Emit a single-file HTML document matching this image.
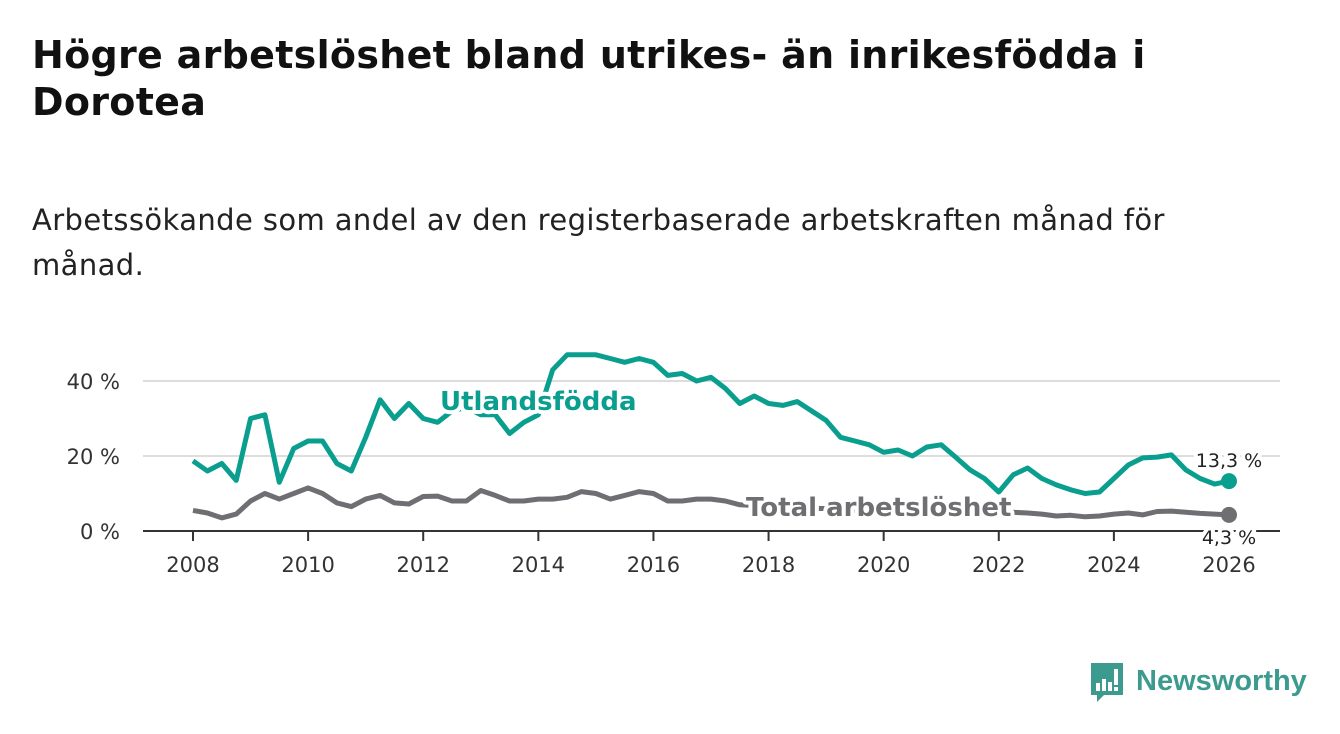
<!DOCTYPE html>
<html><head><meta charset="utf-8">
<style>
html,body{margin:0;padding:0;background:#fff;width:1340px;height:734px;overflow:hidden;font-family:"DejaVu Sans","Liberation Sans",sans-serif;}
h1{position:absolute;left:32px;top:32px;margin:0;font-size:38px;line-height:47px;font-weight:bold;color:#111;white-space:nowrap;letter-spacing:0.3px;}
p.sub{position:absolute;left:32px;top:198px;margin:0;font-size:29px;line-height:45px;color:#222;white-space:nowrap;letter-spacing:0.4px;}
svg{position:absolute;left:0;top:0;}
</style></head><body>
<h1>Högre arbetslöshet bland utrikes- än inrikesfödda i<br>Dorotea</h1>
<p class="sub">Arbetssökande som andel av den registerbaserade arbetskraften månad för<br>månad.</p>
<svg id="chart" width="1340" height="734"></svg>
<script>
const startYear = 2008;
const stepYears = 0.25;
const yTicks = [0, 20, 40];
const yTickLabels = ["0 %", "20 %", "40 %"];
const xTicks = [2008, 2010, 2012, 2014, 2016, 2018, 2020, 2022, 2024, 2026];
const foreignBorn = [18.7,16,18,13.5,30,31,13,22,24,24,18,16,25,35,30,34,30,29,32,33,31,31,26,29,31,43,47,47,47,46,45,46,45,41.5,42,40,41,38,34,36,34,33.5,34.5,32,29.5,25,24,23,21,21.6,20,22.4,23,19.7,16.3,14,10.4,15,16.8,14,12.3,11,10,10.4,14,17.6,19.5,19.7,20.3,16.3,14,12.5,13.3];
const totalRate = [5.5,4.8,3.5,4.5,8,10,8.5,10,11.5,10,7.5,6.5,8.5,9.5,7.5,7.2,9.2,9.3,8,8,10.8,9.5,8,8,8.5,8.5,9,10.5,10,8.5,9.5,10.5,10,8,8,8.5,8.5,8,7,6.8,6.5,6.3,6,6,6,5.8,5.5,5.7,6,6.5,6.5,6.2,6,5.8,5.5,5.2,5,5,4.8,4.5,4,4.2,3.8,4,4.5,4.8,4.3,5.2,5.3,5,4.7,4.5,4.3];
const endLabels = ["13,3 %", "4,3 %"];

const NS = "http://www.w3.org/2000/svg";
const svg = document.getElementById('chart');
const xS = yr => 193 + (yr - 2008) * (1229 - 193) / 18;
const yS = v => 531 - v * 3.75;
function mk(tag, attrs, parent){const e=document.createElementNS(NS,tag);for(const k in attrs)e.setAttribute(k,attrs[k]);(parent||svg).appendChild(e);return e;}

yTicks.forEach((t,i)=>{
  if(t>0){const g=mk('line',{x1:143,x2:1280,y1:yS(t),y2:yS(t),stroke:'#ddd','stroke-width':2});
  
  }
  const tx=mk('text',{x:120,y:yS(t)+8,'text-anchor':'end','font-size':21,fill:'#333'});
  tx.textContent=yTickLabels[i];
  
  
});
const ax=mk('line',{x1:143,x2:1280,y1:531,y2:531,stroke:'#333','stroke-width':2});


xTicks.forEach(t=>{
  mk('line',{x1:xS(t),x2:xS(t),y1:531,y2:541,stroke:'#333','stroke-width':2});
  const tx=mk('text',{x:xS(t),y:572,'text-anchor':'middle','font-size':21,fill:'#333'});
  tx.textContent=t;
  
  
});
function line(data,color,name){
  const d=data.map((v,i)=>(i?'L':'M')+xS(startYear+i*stepYears).toFixed(1)+','+yS(v).toFixed(1)).join(' ');
  const p=mk('path',{d:d,fill:'none',stroke:color,'stroke-width':5,'stroke-linejoin':'round'});
  
  
  const n=data.length-1;
  const c=mk('circle',{cx:xS(startYear+n*stepYears),cy:yS(data[n]),r:8,fill:color});
  
  
}
line(totalRate,'#6f6e72','total-line');
line(foreignBorn,'#0a9e8f','foreign-born-line');
function label(txt,x,y,color,size,weight,anchor,name){
  const t=mk('text',{x:x,y:y,fill:color,'font-size':size,'font-weight':weight,'text-anchor':anchor,stroke:'#fff','stroke-width':8,'paint-order':'stroke','stroke-linejoin':'round'});
  t.textContent=txt;
  
  
}
label('Utlandsfödda',440,410,'#0a9e8f',26,'bold','start','foreign-born-label');
label('Total arbetslöshet',746,516,'#6f6e72',26,'bold','start','total-label');
const n=foreignBorn.length-1;
label(endLabels[0],xS(startYear+n*stepYears),yS(foreignBorn[n])-14,'#222',19,'normal','middle','foreign-born-end-label');
label(endLabels[1],xS(startYear+n*stepYears),yS(totalRate[n])+29,'#222',19,'normal','middle','total-end-label');
</script>
<svg width="1340" height="734" style="pointer-events:none">
  <path d="M1091 663 h32 v32 h-19 l-7 7 v-7 h-6 z" fill="#3d9a8f"/>
  <rect x="1096" y="683" width="4" height="8" fill="#fff"/>
  <rect x="1102" y="679" width="4" height="12" fill="#fff"/>
  <rect x="1108" y="682" width="4" height="9" fill="#fff"/>
  <rect x="1114" y="669" width="4" height="16" fill="#fff"/>
  <rect x="1114" y="687" width="4" height="4" fill="#fff"/>
  <text x="1136" y="690" font-size="29" font-weight="bold" fill="#3d9a8f" font-family="Liberation Sans, sans-serif">Newsworthy</text>
</svg>
</body></html>
